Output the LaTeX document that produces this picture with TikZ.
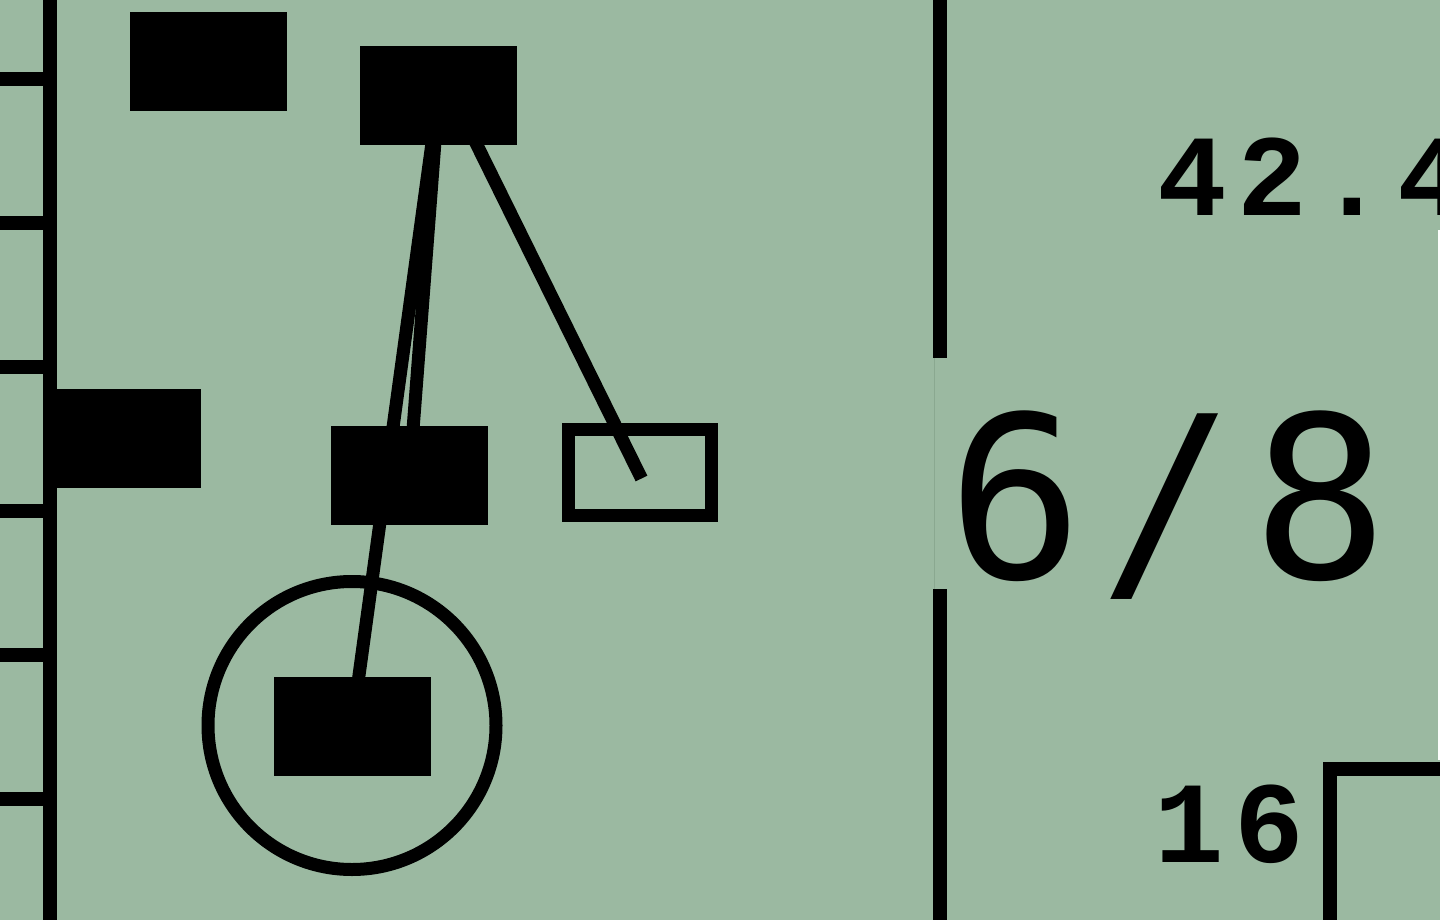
\documentclass[tikz,border=0pt]{standalone}
\usepackage{fontspec}
\usetikzlibrary{backgrounds}
\newfontface\smallmono{Liberation Mono Bold}[LetterSpace=9]
\newfontface\bigmono{DejaVu Sans Mono}[LetterSpace=7.5]
\definecolor{bgc}{RGB}{155,185,161}
\definecolor{edgec}{RGB}{138,168,144}
\begin{document}
\begin{tikzpicture}[x=1pt,y=-1pt,
  blk/.style={rectangle,fill=black,draw=none,inner sep=0pt,minimum width=157pt,minimum height=99pt},
  hollow/.style={rectangle,draw=black,line width=13pt,fill=none,inner sep=0pt,minimum width=143pt,minimum height=86pt},
  ring/.style={circle,draw=black,line width=13pt,inner sep=0pt,minimum size=288pt},
  conn/.style={line width=13pt,draw=black},
  rule/.style={line width=14pt,draw=black},
  numtxt/.style={inner sep=0pt,anchor=base west,font=\smallmono\fontsize{116}{116}\selectfont},
  bigtxt/.style={inner sep=0pt,anchor=base west,font=\bigmono\fontsize{226}{226}\selectfont}]
\useasboundingbox (0,0) rectangle (1440,920);
\begin{scope}[on background layer]
\fill[bgc] (0,0) rectangle (1440,920);
\end{scope}
\clip (0,0) rectangle (1440,920);

% left rule with ticks
\draw[rule] (50,-10) -- (50,930);
\foreach \yy in {79,223,367,511,655,799} \draw[rule] (-10,\yy) -- (50,\yy);

% right rule with gap
\draw[rule] (940,-10) -- (940,358);
\draw[rule] (940,589) -- (940,930);
\draw[edgec,line width=1pt] (934.5,358) -- (934.5,589);

% bottom-right corner
\draw[rule,line join=miter] (1330,930) -- (1330,769) -- (1450,769);
\fill[white] (1437.5,230) rectangle (1441,760);

% nodes
\node[ring] (cc) at (352,725.5) {};
\node[hollow] (ob) at (640,472.5) {};
\node[blk] (r1) at (208.5,61.5) {};
\node[blk] (r2) at (438.5,95.5) {};
\node[blk] (r3) at (122,438.5) {};
\node[blk] (r4) at (409.5,475.5) {};
\node[blk] (r5) at (352,726.5) {};

% connectors, drawn behind the boxes
\begin{scope}[on background layer]
\draw[conn] (r2.center) -- (r5.center);
\draw[conn] (r2.center) -- (r4.center);
\draw[conn] ([xshift=14pt]r2.center) -- ([xshift=1.5pt,yshift=-6pt]ob.center);
\end{scope}

% texts
\node[numtxt] (t1) at (1157,215) {42.4};
\node[numtxt] (t2) at (1154,862) {16};
\node[bigtxt] (t3) at (947,578) {6/8};
\end{tikzpicture}
\end{document}
